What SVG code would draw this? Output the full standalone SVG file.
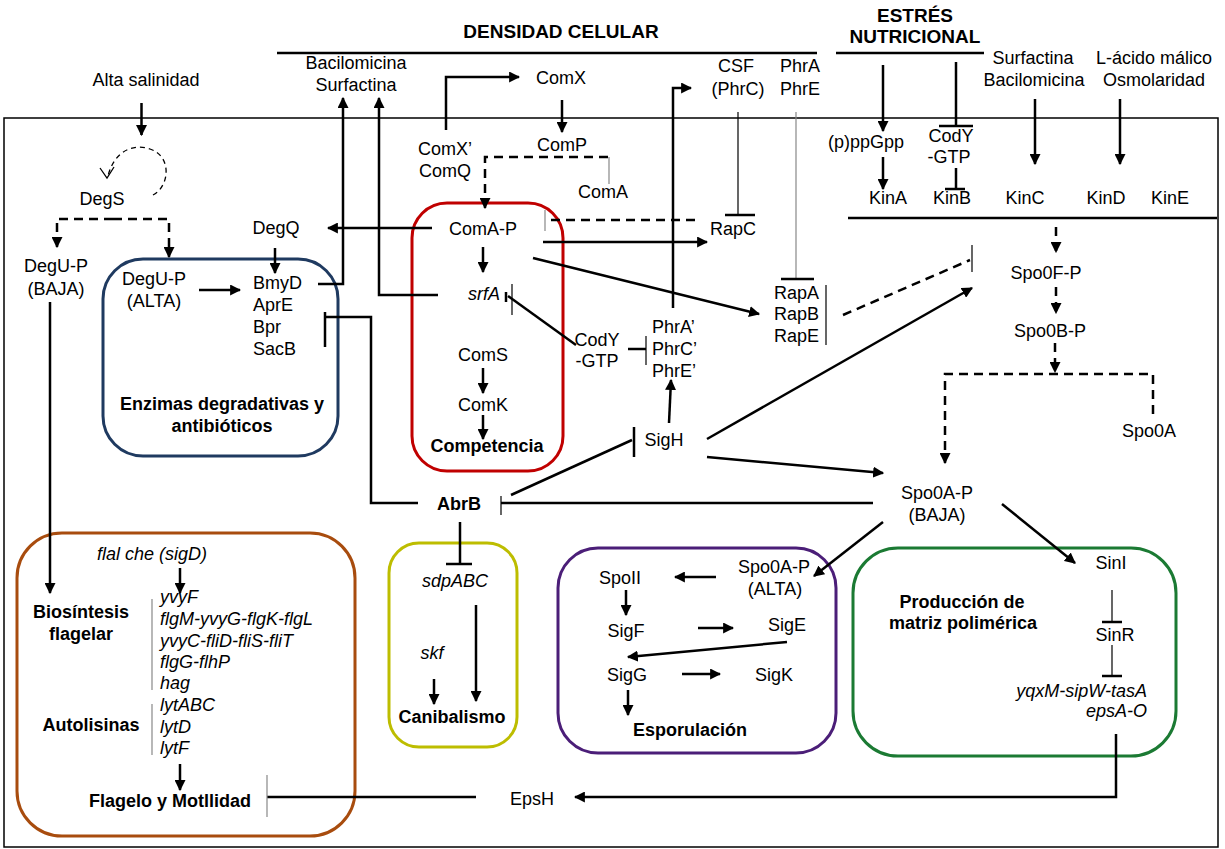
<svg xmlns="http://www.w3.org/2000/svg" width="1225" height="849" viewBox="0 0 1225 849">
<defs>
<style>
text{font-family:"Liberation Sans",Arial,sans-serif;font-size:18px;fill:#000}
.c{text-anchor:middle}
.e{text-anchor:end}
.b{font-weight:bold}
.h{font-weight:bold;font-size:19px}
.i{font-style:italic}
.ln{stroke:#000;stroke-width:2.5;fill:none}
.a{marker-end:url(#ah)}
.da{stroke-dasharray:9 6}
.th{stroke:#000;stroke-width:1.2;fill:none}
.gr{stroke:#888;stroke-width:1.2;fill:none}
.bx{fill:none;stroke-width:3}
</style>
<marker id="ah" viewBox="0 0 10 10" refX="9" refY="5" markerWidth="11" markerHeight="11" markerUnits="userSpaceOnUse" orient="auto">
<path d="M0,0 L10,5 L0,10 z" fill="#000"/>
</marker>
</defs>
<rect width="1225" height="849" fill="#fff"/>
<rect x="4" y="118" width="1214" height="729" fill="none" stroke="#000" stroke-width="1.5"/>
<g id="headers">
<line x1="277" y1="53" x2="817" y2="53" class="ln"/>
<line x1="836" y1="53" x2="984" y2="53" class="ln"/>
<text x="561" y="38" class="h c">DENSIDAD CELULAR</text>
<text x="915" y="22" class="h c">ESTRÉS</text>
<text x="915" y="43" class="h c">NUTRICIONAL</text>
</g>
<g id="boxes">
<rect id="box-enzimas" x="103" y="259" width="235" height="197" rx="40" class="bx" stroke="#1F3A60"/>
<rect id="box-competencia" x="412" y="203" width="151" height="268" rx="35" class="bx" stroke="#C00000"/>
<rect id="box-flagelo" x="17" y="533" width="338" height="303" rx="45" class="bx" stroke="#A84C0E"/>
<rect id="box-canibalismo" x="389" y="543" width="128" height="204" rx="30" class="bx" stroke="#BDBD00"/>
<rect id="box-esporulacion" x="558" y="548" width="278" height="205" rx="40" class="bx" stroke="#4B1E78"/>
<rect id="box-matriz" x="853" y="548" width="323" height="208" rx="45" class="bx" stroke="#1B7A33"/>
</g>
<g id="connectors">
<path d="M141.5,103 V135" class="ln a"/>
<path d="M153,195 C170,186 172,156 150,149 C132,143 114,152 108,176" fill="none" stroke="#000" stroke-width="1.3" stroke-dasharray="5 4"/>
<polyline points="100,168 107,178 114,167" fill="none" stroke="#000" stroke-width="1.3"/>
<path d="M113,219 H57 V247" class="ln da a"/>
<path d="M113,219 H169 V257" class="ln da a"/>
<path d="M50,302 V593" class="ln a"/>
<path d="M199,290 H240" class="ln a"/>
<path d="M275,248 V273" class="ln a"/>
<path d="M432,228 H328" class="ln a"/>
<path d="M318,284 H343 V98" class="ln a"/>
<path d="M438,295 H379 V98" class="ln a"/>
<path d="M418,503 H371 V317 H325" class="ln"/>
<path d="M325,312 V347" class="ln"/>
<path d="M446,130 V77 H519" class="ln a"/>
<path d="M562,100 V132" class="ln a"/>
<path d="M608,157 H485 V208" class="ln da a"/>
<path d="M609,157 V184" class="gr"/>
<path d="M483,247 V272" class="ln a"/>
<path d="M483,368 V393" class="ln a"/>
<path d="M483,415 V439" class="ln a"/>
<path d="M576,345 L508,296" class="ln"/>
<path d="M506,292 V302" class="ln"/>
<path d="M512,284 V315" class="th"/>
<path d="M628,349 H646" class="ln"/>
<path d="M646,336 V365" class="th"/>
<path d="M669,423 L671,380" class="ln a"/>
<path d="M673,308 V88 H691" class="ln a"/>
<path d="M738,112 V215" class="th"/>
<path d="M725,215 H755" class="ln"/>
<path d="M796,112 V279" class="gr"/>
<path d="M781,279 H814" class="ln"/>
<path d="M695,220 H548" class="ln da"/>
<path d="M545,210 V231" class="gr"/>
<path d="M543,242 H707" class="ln a"/>
<path d="M533,258 L759,314" class="ln a"/>
<path d="M826,285 V345" class="th"/>
<path d="M843,315 L970,260" class="ln da"/>
<path d="M972,245 V272" class="th"/>
<path d="M707,439 L972,288" class="ln a"/>
<path d="M707,457 L883,473" class="ln a"/>
<path d="M511,495 L632,440" class="ln"/>
<path d="M634,427 V457" class="ln"/>
<path d="M873,503 H501" class="ln"/>
<path d="M501,496 V515" class="th"/>
<path d="M460,522 V564" class="ln"/>
<path d="M446,564 H472" class="ln"/>
<path d="M883,65 V131" class="ln a"/>
<path d="M883,157 V189" class="ln a"/>
<path d="M956,62 V126" class="ln"/>
<path d="M939,126 H973" class="ln"/>
<path d="M956,168 V189" class="ln"/>
<path d="M945,189 H965" class="ln"/>
<path d="M1035,99 V164" class="ln a"/>
<path d="M1120,99 V164" class="ln a"/>
<path d="M848,218 H1217" class="ln"/>
<path d="M1056,227 V252" class="ln da a"/>
<path d="M1056,287 V313" class="ln da a"/>
<path d="M1055,343 V372" class="ln da a"/>
<path d="M1153,414 V374 H945 V463" class="ln da a"/>
<path d="M883,522 L814,576" class="ln a"/>
<path d="M1002,504 L1075,563" class="ln a"/>
<path d="M716,577 H675" class="ln a"/>
<path d="M626,590 V615" class="ln a"/>
<path d="M698,628 H733" class="ln a"/>
<path d="M787,642 L628,657" class="ln a"/>
<path d="M682,674 H720" class="ln a"/>
<path d="M628,690 V715" class="ln a"/>
<path d="M434,679 V704" class="ln a"/>
<path d="M476,605 V701" class="ln a"/>
<path d="M180,568 V593" class="ln a"/>
<path d="M152,599 V690" class="gr"/>
<path d="M152,704 V755" class="gr"/>
<path d="M180,764 V790" class="ln a"/>
<path d="M476,797 H267" class="ln"/>
<path d="M267,775 V817" class="gr"/>
<path d="M1116,734 V797 H575" class="ln a"/>
<path d="M1112,590 V622" class="th"/>
<path d="M1102,622 H1122" class="ln"/>
<path d="M1112,645 V676" class="th"/>
<path d="M1102,676 H1122" class="ln"/>
</g>
<g id="n-alta-salinidad"><text x="146" y="86" class="c">Alta salinidad</text></g>
<g id="n-degs"><text x="102" y="205" class="c">DegS</text></g>
<g id="n-degup-baja"><text x="56" y="272" class="c">DegU-P</text><text x="56" y="295" class="c">(BAJA)</text></g>
<g id="n-degup-alta"><text x="154" y="285" class="c">DegU-P</text><text x="154" y="307" class="c">(ALTA)</text></g>
<g id="n-degq"><text x="276" y="234" class="c">DegQ</text></g>
<g id="n-enzimas"><text x="253" y="289">BmyD</text><text x="253" y="311">AprE</text><text x="253" y="333">Bpr</text><text x="253" y="355">SacB</text>
<text x="222" y="410" class="c b">Enzimas degradativas y</text><text x="222" y="432" class="c b">antibióticos</text></g>
<g id="n-bac-surf"><text x="356" y="69" class="c">Bacilomicina</text><text x="356" y="91" class="c">Surfactina</text></g>
<g id="n-comx"><text x="561" y="84" class="c">ComX</text></g>
<g id="n-comxq"><text x="445" y="155" class="c">ComX’</text><text x="445" y="177" class="c">ComQ</text></g>
<g id="n-comp"><text x="562" y="151" class="c">ComP</text></g>
<g id="n-coma"><text x="603" y="198" class="c">ComA</text></g>
<g id="n-comap"><text x="483" y="235" class="c">ComA-P</text></g>
<g id="n-srfa"><text x="468" y="300" class="i">srfA</text></g>
<g id="n-coms"><text x="483" y="361" class="c">ComS</text></g>
<g id="n-comk"><text x="483" y="411" class="c">ComK</text></g>
<g id="n-competencia"><text x="487" y="452" class="c b">Competencia</text></g>
<g id="n-cody-mid"><text x="597" y="346" class="c">CodY</text><text x="597" y="367" class="c">-GTP</text></g>
<g id="n-phr-prime"><text x="652" y="333">PhrA’</text><text x="652" y="355">PhrC’</text><text x="652" y="377">PhrE’</text></g>
<g id="n-sigh"><text x="664" y="446" class="c">SigH</text></g>
<g id="n-csf"><text x="736" y="72" class="c">CSF</text><text x="738" y="95" class="c">(PhrC)</text></g>
<g id="n-phrae"><text x="780" y="72">PhrA</text><text x="780" y="95">PhrE</text></g>
<g id="n-rapc"><text x="733" y="235" class="c">RapC</text></g>
<g id="n-rapabe"><text x="774" y="299">RapA</text><text x="774" y="320">RapB</text><text x="774" y="342">RapE</text></g>
<g id="n-abrb"><text x="459" y="510" class="c b">AbrB</text></g>
<g id="n-ppgpp"><text x="866" y="148" class="c">(p)ppGpp</text></g>
<g id="n-cody-top"><text x="951" y="142" class="c">CodY</text><text x="949" y="163" class="c">-GTP</text></g>
<g id="n-surf-bac"><text x="1033" y="64" class="c">Surfactina</text><text x="1034" y="86" class="c">Bacilomicina</text></g>
<g id="n-malico"><text x="1154" y="64" class="c">L-ácido málico</text><text x="1154" y="86" class="c">Osmolaridad</text></g>
<g id="n-kina"><text x="888" y="204" class="c">KinA</text></g>
<g id="n-kinb"><text x="952" y="204" class="c">KinB</text></g>
<g id="n-kinc"><text x="1025" y="204" class="c">KinC</text></g>
<g id="n-kind"><text x="1106" y="204" class="c">KinD</text></g>
<g id="n-kine"><text x="1170" y="204" class="c">KinE</text></g>
<g id="n-spo0fp"><text x="1046" y="279" class="c">Spo0F-P</text></g>
<g id="n-spo0bp"><text x="1050" y="337" class="c">Spo0B-P</text></g>
<g id="n-spo0a"><text x="1149" y="437" class="c">Spo0A</text></g>
<g id="n-spo0ap-baja"><text x="937" y="499" class="c">Spo0A-P</text><text x="937" y="521" class="c">(BAJA)</text></g>
<g id="n-flagelo"><text x="152" y="560" class="c i">flal che (sigD)</text>
<text x="160" y="603" class="i">yvyF</text><text x="160" y="625" class="i">flgM-yvyG-flgK-flgL</text><text x="160" y="647" class="i">yvyC-fliD-fliS-fliT</text><text x="160" y="668" class="i">flgG-flhP</text><text x="160" y="689" class="i">hag</text>
<text x="160" y="711" class="i">lytABC</text><text x="160" y="733" class="i">lytD</text><text x="160" y="754" class="i">lytF</text>
<text x="81" y="618" class="c b">Biosíntesis</text><text x="81" y="640" class="c b">flagelar</text>
<text x="91" y="731" class="c b">Autolisinas</text>
<text x="170" y="807" class="c b">Flagelo y Motllidad</text></g>
<g id="n-canibalismo"><text x="455" y="587" class="c i">sdpABC</text><text x="432" y="659" class="c i">skf</text><text x="452" y="723" class="c b">Canibalismo</text></g>
<g id="n-esporulacion"><text x="774" y="573" class="c">Spo0A-P</text><text x="775" y="595" class="c">(ALTA)</text>
<text x="620" y="584" class="c">SpoII</text><text x="626" y="637" class="c">SigF</text><text x="787" y="631" class="c">SigE</text><text x="627" y="681" class="c">SigG</text><text x="774" y="681" class="c">SigK</text>
<text x="690" y="736" class="c b">Esporulación</text></g>
<g id="n-matriz"><text x="1111" y="569" class="c">SinI</text><text x="1115" y="641" class="c">SinR</text>
<text x="1147" y="697" class="e i">yqxM-sipW-tasA</text><text x="1147" y="717" class="e i">epsA-O</text>
<text x="962" y="608" class="c b">Producción de</text><text x="963" y="629" class="c b">matriz polimérica</text></g>
<g id="n-epsh"><text x="532" y="805" class="c">EpsH</text></g>
</svg>
